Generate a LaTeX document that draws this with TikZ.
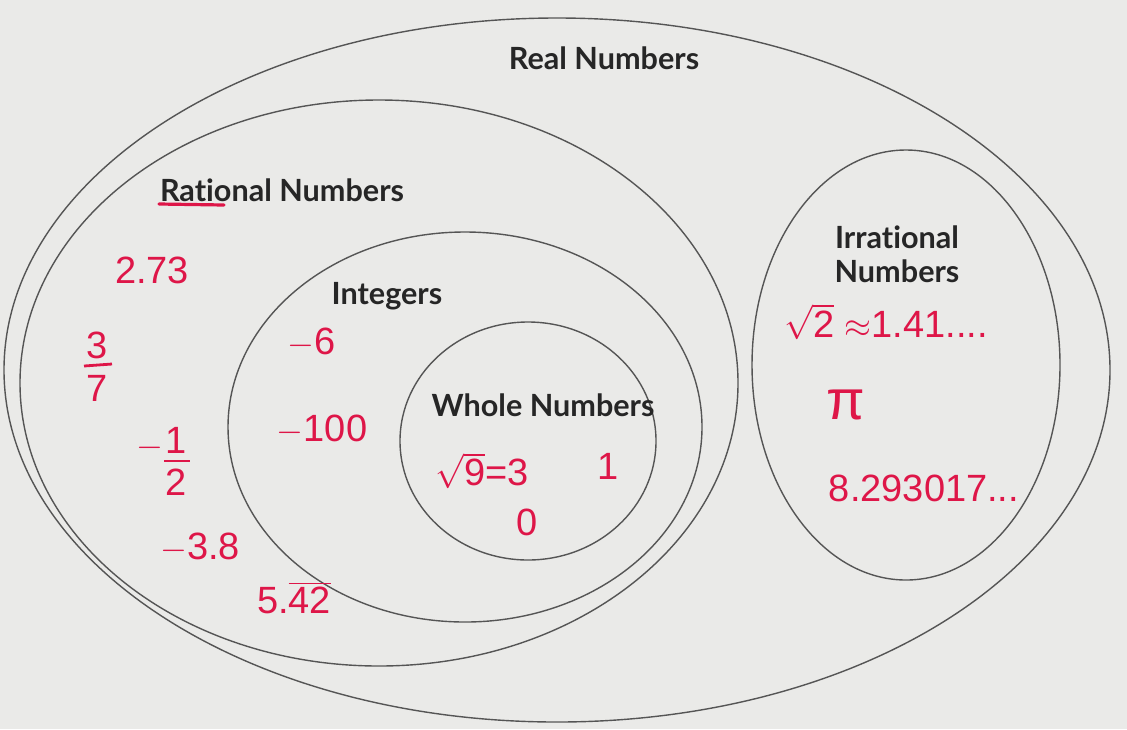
\documentclass[tikz,border=0pt]{standalone}
\usepackage{fontspec}
\setmainfont{Lato}[RawFeature={-liga;-clig;-calt;-dlig}]
\newfontfamily\handfont{Liberation Sans}
\definecolor{paper}{RGB}{234,234,232}
\definecolor{pen}{RGB}{222,22,72}
\definecolor{ink}{RGB}{85,85,85}
\tikzset{
  setline/.style={draw=ink, line width=0.7pt},
  setlabel/.style={font=\bfseries\fontsize{15.3}{17}\selectfont, text=black!85, align=center, inner sep=0pt},
  penmark/.style={font=\handfont\fontsize{19}{21}\selectfont, text=pen, inner sep=0pt}
}
\begin{document}
\begin{tikzpicture}[x=0.5pt,y=-0.5pt]

    % Paper
    \fill[paper] (0,0) rectangle (1127,729);

    % Sets
    \draw[setline] (557,370) ellipse [x radius=553, y radius=352];
    \draw[setline] (379,383) ellipse [x radius=359, y radius=283];
    \draw[setline] (465,427) ellipse [x radius=237, y radius=195];
    \draw[setline] (528,441) ellipse [x radius=128, y radius=119];
    \draw[setline] (906,365) ellipse [x radius=154, y radius=215];

    % Labels
    \node[setlabel] (real) at (604,58) {Real Numbers};
    \node[setlabel] (rational) at (282,190) {Rational Numbers};
    \node[setlabel] (integers) at (387,296) {Integers};
    \node[setlabel] (whole) at (543,405) {Whole Numbers};
    \node[setlabel] (irrational) at (897,254) {Irrational\\[0pt]Numbers};

    % Underline
    \draw[pen, line width=1.6pt, line cap=round] (159,204) -- (224,205);

    % Rational examples
    \node[penmark] (r1) at (152,270) {2.73};
    \node[penmark] (r2a) at (97,345) {3};
    \node[penmark] (r2b) at (97,388) {7};
    \draw[pen, line width=1.4pt] (84,366) -- (112,364);
    \node[penmark] (r3m) at (150,448) {$-$};
    \node[penmark] (r3a) at (176,440) {1};
    \node[penmark] (r3b) at (176,482) {2};
    \draw[pen, line width=1.4pt] (164,461) -- (190,461);
    \node[penmark] (r4) at (200,548) {$-$3.8};
    \node[penmark] (r5) at (294,598) {5.$\overline{\mbox{\handfont 42}}$};

    % Integer examples
    \node[penmark] (i1) at (312,343) {$-$6};
    \node[penmark] (i2) at (322,430) {$-$100};

    % Whole examples
    \node[penmark] (w1) at (482,471) {$\sqrt{\mbox{\handfont 9}}$=3};
    \node[penmark] (w2) at (608,466) {1};
    \node[penmark] (w3) at (527,522) {0};

    % Irrational examples
    \node[penmark] (x1) at (886,322) {$\sqrt{\mbox{\handfont 2}}$ $\approx$1.41....};
    \node[penmark, font=\handfont\fontsize{28}{30}\selectfont] (x2) at (846,405) {π};
    \node[penmark] (x3) at (924,488) {8.293017...};

\end{tikzpicture}
\end{document}
